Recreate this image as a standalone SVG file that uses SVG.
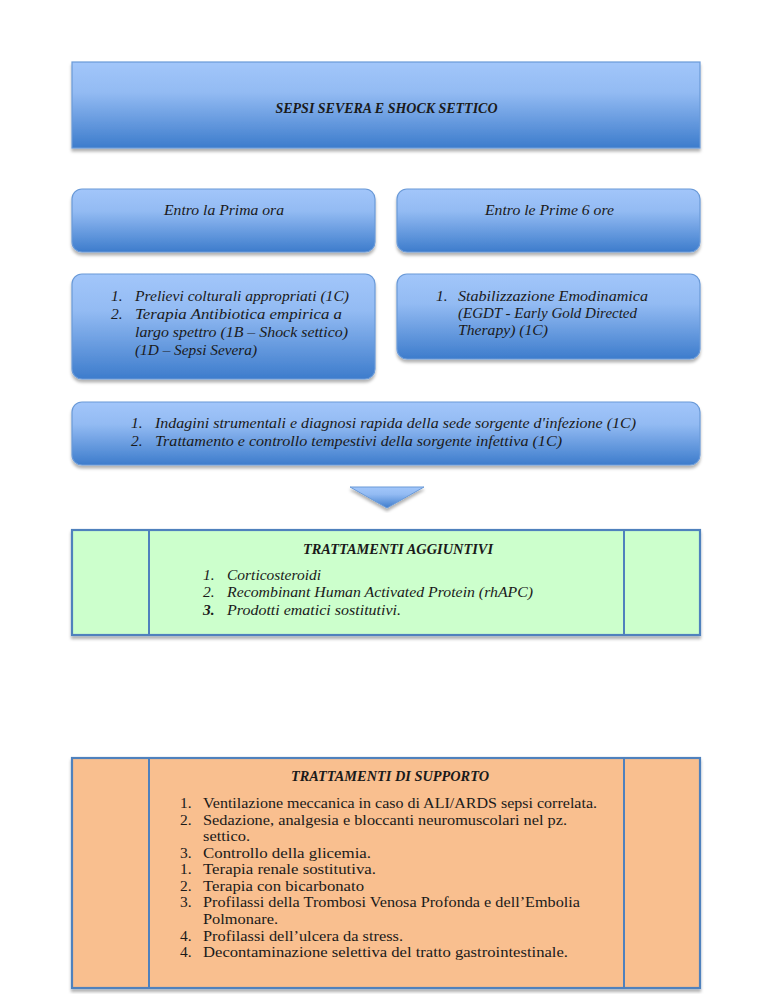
<svg xmlns="http://www.w3.org/2000/svg" width="768" height="994" viewBox="0 0 768 994">
<defs>
<linearGradient id="blue" x1="0" y1="0" x2="0" y2="1">
<stop offset="0" stop-color="#a2c6fa"/>
<stop offset="0.35" stop-color="#93bbf3"/>
<stop offset="1" stop-color="#3d7ccc"/>
</linearGradient>
<filter id="sh" x="-5%" y="-10%" width="110%" height="130%">
<feDropShadow dx="0" dy="3" stdDeviation="1.5" flood-color="#000" flood-opacity="0.3"/>
</filter>
<style>
.bx{fill:url(#blue);stroke:#6a9ad8;stroke-width:1.2;filter:url(#sh)}
.tb{stroke:#4f81bd;stroke-width:2.2;filter:url(#sh)}
.ln{stroke:#4f81bd;stroke-width:2}
text{font-family:"Liberation Serif","Times New Roman",serif;fill:#1a1a1a}
.i{font-style:italic;font-size:15.5px}
.r{font-size:15.5px}
.bi{font-style:italic;font-weight:bold;font-size:15.5px}
</style>
</defs>
<g id="title">
<rect class="bx" x="72" y="62" width="628" height="86"/>
<text class="bi" x="386.5" y="113" text-anchor="middle" textLength="222" lengthAdjust="spacingAndGlyphs">SEPSI SEVERA E SHOCK SETTICO</text>
</g>
<g id="prima-ora">
<rect class="bx" x="72" y="189" width="303" height="63" rx="10"/>
<text class="i" x="224" y="215" text-anchor="middle" textLength="120" lengthAdjust="spacingAndGlyphs">Entro la Prima ora</text>
</g>
<g id="prime-6-ore">
<rect class="bx" x="397" y="189" width="303" height="63" rx="10"/>
<text class="i" x="549.5" y="215" text-anchor="middle" textLength="129" lengthAdjust="spacingAndGlyphs">Entro le Prime 6 ore</text>
</g>
<g id="prima-ora-list">
<rect class="bx" x="72" y="274" width="303" height="105" rx="10"/>
<text class="i" x="111" y="301">1.</text>
<text class="i" x="135" y="301" textLength="214" lengthAdjust="spacingAndGlyphs">Prelievi colturali appropriati (1C)</text>
<text class="i" x="111" y="319">2.</text>
<text class="i" x="135" y="319" textLength="207" lengthAdjust="spacingAndGlyphs">Terapia Antibiotica empirica a</text>
<text class="i" x="135" y="337" textLength="213" lengthAdjust="spacingAndGlyphs">largo spettro (1B – Shock settico)</text>
<text class="i" x="135" y="355" textLength="122" lengthAdjust="spacingAndGlyphs">(1D – Sepsi Severa)</text>
</g>
<g id="prime-6-ore-list">
<rect class="bx" x="397" y="274" width="303" height="85" rx="10"/>
<text class="i" x="436" y="301">1.</text>
<text class="i" x="458" y="301" textLength="190" lengthAdjust="spacingAndGlyphs">Stabilizzazione Emodinamica</text>
<text class="i" x="458" y="318" textLength="179" lengthAdjust="spacingAndGlyphs">(EGDT - Early Gold Directed</text>
<text class="i" x="458" y="335" textLength="90" lengthAdjust="spacingAndGlyphs">Therapy) (1C)</text>
</g>
<g id="sorgente">
<rect class="bx" x="72" y="402" width="628" height="63" rx="10"/>
<text class="i" x="131" y="428">1.</text>
<text class="i" x="155" y="428" textLength="481" lengthAdjust="spacingAndGlyphs">Indagini strumentali e diagnosi rapida della sede sorgente d'infezione (1C)</text>
<text class="i" x="131" y="446">2.</text>
<text class="i" x="155" y="446" textLength="407" lengthAdjust="spacingAndGlyphs">Trattamento e controllo tempestivi della sorgente infettiva (1C)</text>
</g>
<g id="connectors">
<polygon points="350,487 424,487 387,508" fill="url(#blue)" stroke="#6a9ad8" stroke-width="1" filter="url(#sh)"/>
</g>
<g id="aggiuntivi">
<rect class="tb" x="72" y="530" width="628" height="105" fill="#ccffcc"/>
<line class="ln" x1="149" y1="530" x2="149" y2="635"/>
<line class="ln" x1="624" y1="530" x2="624" y2="635"/>
<text class="bi" x="398" y="554" text-anchor="middle" textLength="190" lengthAdjust="spacingAndGlyphs">TRATTAMENTI AGGIUNTIVI</text>
<text class="i" x="203" y="580">1.</text>
<text class="i" x="227" y="580" textLength="94" lengthAdjust="spacingAndGlyphs">Corticosteroidi</text>
<text class="i" x="203" y="597">2.</text>
<text class="i" x="227" y="597" textLength="306" lengthAdjust="spacingAndGlyphs">Recombinant Human Activated Protein (rhAPC)</text>
<text class="i" x="203" y="615" font-weight="bold">3.</text>
<text class="i" x="227" y="615" textLength="174" lengthAdjust="spacingAndGlyphs">Prodotti ematici sostitutivi.</text>
</g>
<g id="supporto">
<rect class="tb" x="72" y="758" width="628" height="230" fill="#f9bf8f"/>
<line class="ln" x1="149" y1="758" x2="149" y2="988"/>
<line class="ln" x1="624" y1="758" x2="624" y2="988"/>
<text class="bi" x="390" y="781" text-anchor="middle" textLength="198" lengthAdjust="spacingAndGlyphs">TRATTAMENTI DI SUPPORTO</text>
<text class="r" x="180" y="808">1.</text>
<text class="r" x="203" y="808" textLength="394" lengthAdjust="spacingAndGlyphs">Ventilazione meccanica in caso di ALI/ARDS sepsi correlata.</text>
<text class="r" x="180" y="825">2.</text>
<text class="r" x="203" y="825" textLength="364" lengthAdjust="spacingAndGlyphs">Sedazione, analgesia e bloccanti neuromuscolari nel pz.</text>
<text class="r" x="203" y="841" textLength="47" lengthAdjust="spacingAndGlyphs">settico.</text>
<text class="r" x="180" y="858">3.</text>
<text class="r" x="203" y="858" textLength="168" lengthAdjust="spacingAndGlyphs">Controllo della glicemia.</text>
<text class="r" x="180" y="874">1.</text>
<text class="r" x="203" y="874" textLength="173" lengthAdjust="spacingAndGlyphs">Terapia renale sostitutiva.</text>
<text class="r" x="180" y="891">2.</text>
<text class="r" x="203" y="891" textLength="161" lengthAdjust="spacingAndGlyphs">Terapia con bicarbonato</text>
<text class="r" x="180" y="907">3.</text>
<text class="r" x="203" y="907" textLength="377" lengthAdjust="spacingAndGlyphs">Profilassi della Trombosi Venosa Profonda e dell’Embolia</text>
<text class="r" x="203" y="924" textLength="75" lengthAdjust="spacingAndGlyphs">Polmonare.</text>
<text class="r" x="180" y="941">4.</text>
<text class="r" x="203" y="941" textLength="200" lengthAdjust="spacingAndGlyphs">Profilassi dell’ulcera da stress.</text>
<text class="r" x="180" y="957">4.</text>
<text class="r" x="203" y="957" textLength="365" lengthAdjust="spacingAndGlyphs">Decontaminazione selettiva del tratto gastrointestinale.</text>
</g>
</svg>
